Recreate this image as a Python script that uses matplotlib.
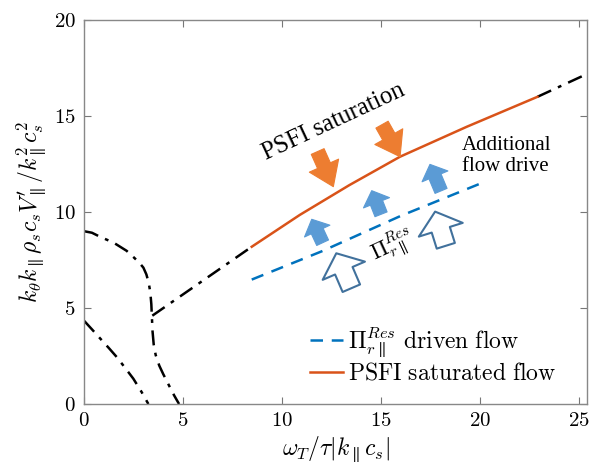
import matplotlib
matplotlib.use("Agg")
import matplotlib.pyplot as plt
from matplotlib.ticker import FuncFormatter

plt.rcParams['mathtext.fontset'] = 'cm'
plt.rcParams['font.family'] = ['Liberation Serif', 'DejaVu Serif']

# boundary curves (black dash-dot)
low_x = [0.0, 0.4, 0.81, 1.25, 1.65, 2.1, 2.49, 2.9, 3.25]
low_y = [4.34, 3.89, 3.42, 2.92, 2.45, 1.85, 1.32, 0.64, 0.0]

bend_x = [0.0, 0.4, 0.81, 1.5, 2.15, 2.5, 2.8, 3.0, 3.15, 3.27, 3.35, 3.4, 3.43,
          3.46, 3.52, 3.62, 3.8, 4.0, 4.3, 4.55, 4.8]
bend_y = [9.0, 8.92, 8.71, 8.4, 7.98, 7.65, 7.35, 7.1, 6.75, 6.3, 5.8, 5.2, 4.5,
          3.8, 3.1, 2.55, 2.0, 1.56, 0.95, 0.45, 0.0]

branch_x = [3.45, 8.47]
branch_y = [4.6, 8.19]

# PSFI saturated flow (orange)
sat_x = [8.47, 10.9, 13.4, 15.96, 19.33, 22.9]
sat_y = [8.19, 9.85, 11.4, 12.88, 14.44, 16.0]
tail_x = [22.9, 25.4]
tail_y = [16.0, 17.19]

# residual-stress driven flow (blue dashed)
res_x = [8.47, 12.0, 16.0, 20.25]
res_y = [6.48, 7.95, 9.8, 11.58]

fig = plt.figure(figsize=(6.09, 4.68), dpi=100)
ax = fig.add_axes([84/609, 64/468, 503/609, 384/468])

dd = dict(color='black', lw=1.8, dashes=(6, 3, 1.5, 3))
ax.plot(low_x, low_y, **dd)
ax.plot(bend_x, bend_y, **dd)
ax.plot(branch_x, branch_y, **dd)
ax.plot(tail_x, tail_y, **dd)
ax.plot(res_x, res_y, color='#0072BD', lw=1.8, dashes=(5, 3.5),
        label=r'$\Pi_{r\parallel}^{Res}\ \mathrm{driven\ flow}$')
ax.plot(sat_x, sat_y, color='#D95319', lw=1.8,
        label=r'$\mathrm{PSFI\ saturated\ flow}$')

# arrows: (tail, tip) in data units, sizes in pixels
def arrow(tail, tip, fc, ec, hw, hl, tw, lw=0.8):
    s = 'simple,head_width=%g,head_length=%g,tail_width=%g' % (hw, hl, tw)
    ax.annotate('', xy=tip, xytext=tail,
                arrowprops=dict(arrowstyle=s, fc=fc, ec=ec, lw=lw,
                                shrinkA=0, shrinkB=0, mutation_scale=0.72))

for tail, tip in [((11.8, 13.15), (12.59, 11.32)), ((15.05, 14.55), (15.96, 12.88))]:
    arrow(tail, tip, '#ED7D31', '#ED7D31', 32, 23, 14)
for tail, tip in [((12.05, 8.4), (11.5, 9.62)), ((15.0, 9.88), (14.53, 11.11)),
                  ((18.03, 11.1), (17.47, 12.48))]:
    arrow(tail, tip, '#5B9BD5', '#5B9BD5', 28, 13, 13)
for tail, tip in [((13.5, 6.03), (12.74, 7.85)), ((18.27, 8.24), (17.73, 10.02))]:
    arrow(tail, tip, 'white', '#41719C', 46, 19, 19, lw=1.5)

ax.text(12.6, 14.7, 'PSFI saturation', fontsize=18, rotation=25,
        ha='center', va='center')
ax.text(19.1, 13.95, 'Additional\nflow drive', fontsize=15, ha='left', va='top',
        linespacing=1.15)
ax.text(15.6, 8.25, r'$\Pi_{r\parallel}^{Res}$', fontsize=16, rotation=25,
        ha='center', va='center')

ax.set_xlim(0, 25.4)
ax.set_ylim(0, 20)
ax.set_xticks([0, 5, 10, 15, 20, 25])
ax.set_yticks([0, 5, 10, 15, 20])
fmt = FuncFormatter(lambda v, p: r'$%d$' % v)
ax.xaxis.set_major_formatter(fmt)
ax.yaxis.set_major_formatter(fmt)
ax.tick_params(direction='in', length=5, width=0.8, color='#777777',
               top=True, right=True, labelsize=15, pad=6)
for sp in ax.spines.values():
    sp.set_color('#888888')
    sp.set_linewidth(1.0)

ax.set_xlabel(r'$\omega_T/\tau|k_\parallel c_s|$', fontsize=17, labelpad=2)
ax.set_ylabel(r"$k_\theta k_\parallel \rho_s c_s V_\parallel'/k_\parallel^2 c_s^2$",
              fontsize=17, labelpad=4)

ax.legend(loc='lower right', bbox_to_anchor=(0.957, 0.025), borderaxespad=0,
          frameon=False, fontsize=17, handlelength=1.4,
          handletextpad=0.2, labelspacing=0.15)

fig.savefig('out.png', dpi=100)
